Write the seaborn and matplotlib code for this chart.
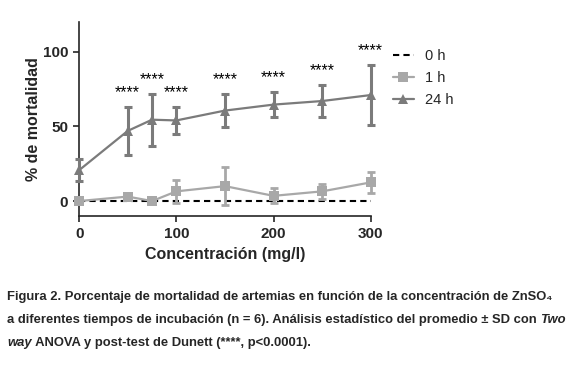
import pandas as pd
import seaborn as sns
import matplotlib.pyplot as plt
from matplotlib.lines import Line2D
from matplotlib import font_manager

# concentraciones (mg/l) y mortalidad (%) promedio +- SD
conc = [0, 50, 75, 100, 150, 200, 250, 300]
mort_0h = [0, 0, 0, 0, 0, 0, 0, 0]
mort_1h = [0, 3, 0, 6.5, 10, 3.5, 6.5, 12.5]
sd_1h = [0, 2.5, 0, 7.5, 12.5, 5, 5, 7]
mort_24h = [20.7, 47, 54.5, 54, 60.6, 64.6, 67, 71]
sd_24h = [7.5, 16, 17.5, 9.2, 11, 8.6, 10.7, 20]
signif_24h = [False, True, True, True, True, True, True, True]
series = ["0 h", "1 h", "24 h"]
x_ticks = [0, 100, 200, 300]
y_ticks = [0, 50, 100]

c_0h, c_1h, c_24h = "black", "#a8a8a8", "#7b7b7b"

sns.set_style("ticks")
plt.rcParams["font.family"] = ["Liberation Sans", "DejaVu Sans"]

fig = plt.figure(figsize=(5.82, 3.84), dpi=100)
ax = fig.add_axes([0.136, 0.4375, 0.501, 0.5055])

df = pd.DataFrame({
    "conc": conc * 3,
    "mort": mort_0h + mort_1h + mort_24h,
    "serie": [s for s in series for _ in conc],
})

sns.lineplot(data=df[df.serie == "0 h"], x="conc", y="mort", color=c_0h,
             lw=1.5, linestyle=(0, (3, 2)), ax=ax, legend=False, clip_on=False)
sns.lineplot(data=df[df.serie == "1 h"], x="conc", y="mort", color=c_1h,
             lw=1.6, marker="s", markersize=7.5, markeredgewidth=0,
             ax=ax, legend=False, clip_on=False, zorder=3)
ax.errorbar(conc, mort_1h, yerr=sd_1h, fmt="none", ecolor=c_1h, elinewidth=2,
            capsize=3.2, capthick=2, clip_on=False, zorder=3)
sns.lineplot(data=df[df.serie == "24 h"], x="conc", y="mort", color=c_24h,
             lw=1.6, marker="^", markersize=7.5, markeredgewidth=0,
             ax=ax, legend=False, clip_on=False, zorder=4)
ax.errorbar(conc, mort_24h, yerr=sd_24h, fmt="none", ecolor=c_24h, elinewidth=2.2,
            capsize=3.2, capthick=2.2, clip_on=False, zorder=4)

# asteriscos de significancia sobre las barras de error
for xv, m, s, sig in zip(conc, mort_24h, sd_24h, signif_24h):
    if sig:
        ax.annotate("****", (xv, m + s + 12), xytext=(0, -6), textcoords="offset points",
                    ha="center", va="baseline", fontsize=11.5, color="black")

ax.set_xlim(0, 300)
ax.set_ylim(-10, 120)
ax.set_xticks(x_ticks)
ax.set_yticks(y_ticks)
ax.tick_params(length=4.5, width=1.2, labelsize=11)
for lab in ax.get_xticklabels() + ax.get_yticklabels():
    lab.set_fontweight("bold")
for sp in ["left", "bottom"]:
    ax.spines[sp].set_linewidth(1.2)
sns.despine(ax=ax)
ax.set_xlabel("Concentración (mg/l)", fontsize=11.5, fontweight="bold", labelpad=4)
ax.set_ylabel("% de mortalidad", fontsize=11.5, fontweight="bold", labelpad=1)

handles = [
    Line2D([], [], color=c_0h, lw=1.5, linestyle=(0, (3, 2))),
    Line2D([], [], color=c_1h, lw=1.6, marker="s", markersize=7, markeredgewidth=0),
    Line2D([], [], color=c_24h, lw=1.6, marker="^", markersize=7.5, markeredgewidth=0),
]
ax.legend(handles, series, loc="upper left", bbox_to_anchor=(0.675, 0.872),
          bbox_transform=fig.transFigure, frameon=False, fontsize=10.5,
          handlelength=1.45, handletextpad=0.75, labelspacing=0.55,
          borderpad=0, borderaxespad=0)

# pie de figura
names = {f.name for f in font_manager.fontManager.ttflist}
cap_font = ["Liberation Sans Narrow", "DejaVu Sans"] if "Liberation Sans Narrow" in names \
    else ["Liberation Sans", "DejaVu Sans"]
renderer = fig.canvas.get_renderer()


def write_line(y, parts, size):
    x = 0.012
    for s, style in parts:
        t = fig.text(x, y, s, fontsize=size, fontweight="bold", fontstyle=style,
                     family=cap_font, va="baseline")
        bb = t.get_window_extent(renderer=renderer)
        x = fig.transFigure.inverted().transform((bb.x1, bb.y0))[0]


cap_size = 9.4
write_line(0.2188, [("Figura 2. Porcentaje de mortalidad de artemias en función de la "
                     "concentración de ZnSO₄", "normal")], cap_size)
write_line(0.1589, [("a diferentes tiempos de incubación (n = 6). Análisis estadístico "
                     "del promedio ± SD con ", "normal"), ("Two", "italic")], cap_size)
write_line(0.0990, [("way", "italic"), (" ANOVA y post-test de Dunett (****, p<0.0001).",
                                        "normal")], cap_size)

fig.savefig("out.png", dpi=100)
